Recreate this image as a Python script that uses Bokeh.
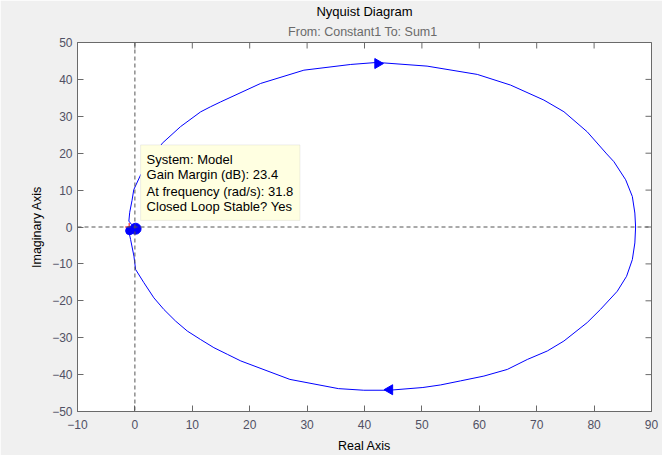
import math
from bokeh.plotting import figure
from bokeh.models import Range1d, FixedTicker, Title, Span, BoxAnnotation, Label
from bokeh.embed import file_html
from bokeh.resources import INLINE

# ---- data ----
# negative-frequency branch (upper half, origin -> G(0))
upper_re = [0.0, -0.6, -1.05, -0.9, -0.5, -0.2, 0.99, 4.77, 7.95, 11.45, 13.19, 14.93,
            21.9, 29.44, 37.6, 42.2, 50.9, 59.65, 65.45, 71.25, 74.74, 78.8, 82.2,
            83.45, 85.5, 86.66, 87.1, 87.23]
upper_im = [0.0, 0.7, 1.6, 4.0, 7.2, 10.1, 14.1, 22.7, 27.2, 31.2, 32.6, 33.9,
            38.9, 42.5, 44.05, 44.6, 43.6, 41.35, 38.46, 34.4, 31.24, 25.8, 19.8,
            17.7, 12.8, 8.27, 3.78, 0.0]
# positive-frequency branch (lower half, G(0) -> origin)
lower_re = [87.23, 87.1, 86.66, 85.66, 84.04, 81.13, 78.8, 74.74, 71.85, 68.36, 64.88,
            60.8, 56.74, 53.26, 50.17, 44.29, 39.88, 35.45, 27.0, 18.45, 16.1, 13.76,
            11.45, 9.13, 7.09, 5.05, 3.31, 1.57, 0.12, -0.17, -0.75, -1.0, -0.6, 0.0]
lower_im = [0.0, -4.32, -8.84, -13.35, -17.4, -22.3, -25.9, -30.9, -33.6, -35.9, -38.6,
            -40.4, -41.7, -42.8, -43.5, -44.24, -44.24, -43.8, -41.3, -36.3, -34.5, -32.7,
            -30.5, -28.2, -25.5, -22.35, -19.2, -15.1, -11.5, -7.9, -3.4, -1.6, -0.7, 0.0]
arrow_re = [42.3, 44.4]
arrow_im = [44.3, -44.1]
arrow_dir_deg = [0, 180]
critical_re = [-1.0]
critical_im = [0.0]
gm_re = [0.12, -0.92]
gm_im = [-0.46, -1.0]
x_ticks = [-10, 0, 10, 20, 30, 40, 50, 60, 70, 80, 90]
y_ticks = [-50, -40, -30, -20, -10, 0, 10, 20, 30, 40, 50]
title_text = "Nyquist Diagram"
subtitle_text = "From: Constant1  To: Sum1"
tip_lines = ["System: Model", "Gain Margin (dB): 23.4",
             "At frequency (rad/s): 31.8", "Closed Loop Stable? Yes"]

FONT = "Liberation Sans"
AX = "#6a6a6a"
TICKC = "#505064"

X_MIN, X_MAX = -10, 90
Y_MIN, Y_MAX = -50, 50

p = figure(width=662, height=455, output_backend="svg", toolbar_location=None,
           x_range=Range1d(X_MIN, X_MAX), y_range=Range1d(Y_MIN, Y_MAX),
           min_border_left=77, min_border_right=11, min_border_top=42,
           min_border_bottom=43)
p.background_fill_color = "white"
p.border_fill_color = "#f0f0f0"
p.outline_line_color = AX
p.xgrid.visible = False
p.ygrid.visible = False

for ax, ticks in ((p.xaxis[0], x_ticks), (p.yaxis[0], y_ticks)):
    ax.ticker = FixedTicker(ticks=ticks)
    ax.minor_tick_line_color = None
    ax.major_tick_in = 6
    ax.major_tick_out = 0
    ax.axis_line_color = AX
    ax.major_tick_line_color = AX
    ax.major_label_text_font = FONT
    ax.major_label_text_font_size = "12px"
    ax.major_label_text_color = TICKC
    ax.axis_label_text_font = FONT
    ax.axis_label_text_font_size = "12.5px"
    ax.axis_label_text_font_style = "normal"
    ax.axis_label_text_color = "black"
p.xaxis[0].axis_label = "Real Axis"
p.yaxis[0].axis_label = "Imaginary Axis"
p.xaxis[0].major_label_standoff = 8
p.xaxis[0].axis_label_standoff = 7
p.yaxis[0].major_label_standoff = 5
p.yaxis[0].axis_label_standoff = 5

# inward ticks on the top and right edges (box on), drawn as clipped dash markers
p.scatter(x_ticks, [Y_MAX] * len(x_ticks), marker="dash", size=12, angle=math.pi / 2,
          line_color=AX, line_width=1)
p.scatter([X_MAX] * len(y_ticks), y_ticks, marker="dash", size=12,
          line_color=AX, line_width=1)

p.add_layout(Title(text=subtitle_text, align="center", text_font=FONT,
                   text_font_size="12.5px", text_font_style="normal",
                   text_color="#6a6a6a", standoff=8), "above")
p.title.text = title_text
p.title.align = "center"
p.title.text_font = FONT
p.title.text_font_size = "13px"
p.title.text_font_style = "normal"
p.title.text_color = "black"
p.title.standoff = 0

p.add_layout(Span(location=0, dimension="height", line_color="#555555",
                  line_dash="4 3", line_width=1))
p.add_layout(Span(location=0, dimension="width", line_color="#555555",
                  line_dash="4 3", line_width=1))

p.line(upper_re, upper_im, line_color="#0000ff", line_width=1)
p.line(lower_re, lower_im, line_color="#0000ff", line_width=1)
p.scatter(arrow_re, arrow_im, marker="triangle", size=10,
          angle=[math.radians(d - 90) for d in arrow_dir_deg],
          fill_color="#0000ff", line_color="#0000ff")
p.scatter(critical_re, critical_im, marker="cross", size=8, line_color="red", line_width=1)
p.scatter(gm_re, gm_im, marker="circle", size=[11, 8],
          fill_color="#0000ff", line_color="#0000ff")

p.add_layout(BoxAnnotation(left=0.99, right=28.75, top=22.24, bottom=1.78,
                           fill_color="#ffffe1", fill_alpha=1.0,
                           line_color="#c8c8c8", line_width=1))
tip_y = [18.19, 14.13, 9.62, 5.57]
for t, yy in zip(tip_lines, tip_y):
    p.add_layout(Label(x=2.04, y=yy, text=t, text_font=FONT, text_font_size="13px",
                       text_baseline="middle", text_color="black"))

open("out.html", "w").write(file_html(p, INLINE))
